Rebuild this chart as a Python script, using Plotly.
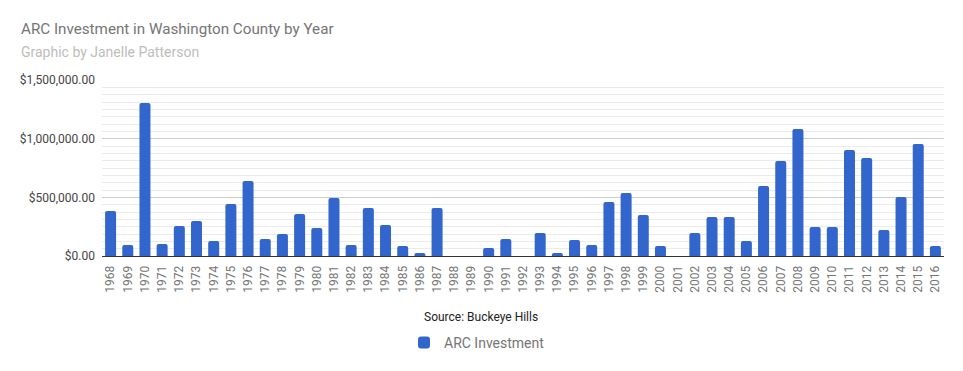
import plotly.graph_objects as go

years = [str(y) for y in range(1968, 2017)]
investment = [
    383000, 94000, 1304000, 102000, 256000, 298000, 128000, 443000, 639000, 145000,
    188000, 358000, 239000, 494000, 94000, 409000, 264000, 85000, 26000, 409000,
    0, 0, 68000, 145000, 0, 196000, 26000, 136000, 94000, 460000,
    537000, 349000, 85000, 0, 196000, 332000, 332000, 128000, 597000, 810000,
    1082000, 247000, 247000, 903000, 835000, 222000, 503000, 955000, 85000,
]
y_ticks = [0, 500000, 1000000, 1500000]

W, H = 963, 371
L, R, T, B = 102, 19, 80, 115
pw, ph = W - L - R, H - T - B

def px_x(x):
    return (x - L) / pw

def px_y(y):
    return (H - B - y) / ph

fig = go.Figure()
fig.add_trace(go.Bar(
    x=years, y=investment, name="ARC Investment",
    marker=dict(color="#3366cc", cornerradius=2, line=dict(width=0)),
))

fig.update_layout(
    width=W, height=H,
    margin=dict(l=L, r=R, t=T, b=B, autoexpand=False),
    paper_bgcolor="white", plot_bgcolor="white",
    font=dict(family="Roboto", color="#444444"),
    bargap=0.36,
    showlegend=True,
    legend=dict(orientation="h", x=px_x(477), xanchor="center", y=px_y(343), yanchor="middle",
                font=dict(size=14, color="#757575")),
    xaxis=dict(
        type="category", tickangle=-90, tickfont=dict(size=12, color="#757575"),
        showgrid=False, showline=True, linecolor="#333333", linewidth=1,
        ticks="", ticklabelstandoff=4, automargin=False,
    ),
    yaxis=dict(
        range=[0, 1500000], tickvals=y_ticks, tickformat="$,.2f",
        tickfont=dict(size=12, color="#444444"),
        showgrid=True, gridcolor="#cccccc", gridwidth=1, zeroline=False,
        ticks="", ticklabelstandoff=6, automargin=False,
        minor=dict(dtick=62500, tick0=0, showgrid=True, gridcolor="#ebebeb", gridwidth=1),
    ),
    annotations=[
        dict(text="ARC Investment in Washington County by Year", xref="paper", yref="paper",
             x=px_x(19), y=px_y(29), xanchor="left", yanchor="middle", showarrow=False,
             font=dict(size=15.2, color="#757575")),
        dict(text="Graphic by Janelle Patterson", xref="paper", yref="paper",
             x=px_x(19), y=px_y(52), xanchor="left", yanchor="middle", showarrow=False,
             font=dict(size=14, color="#bdbdbd")),
        dict(text="Source: Buckeye Hills", xref="paper", yref="paper",
             x=px_x(481), y=px_y(317), xanchor="center", yanchor="middle", showarrow=False,
             font=dict(size=12, color="#222222")),
    ],
)

fig.write_html("out.html", config={"displayModeBar": False},
               post_script="document.body.style.margin='0';")
